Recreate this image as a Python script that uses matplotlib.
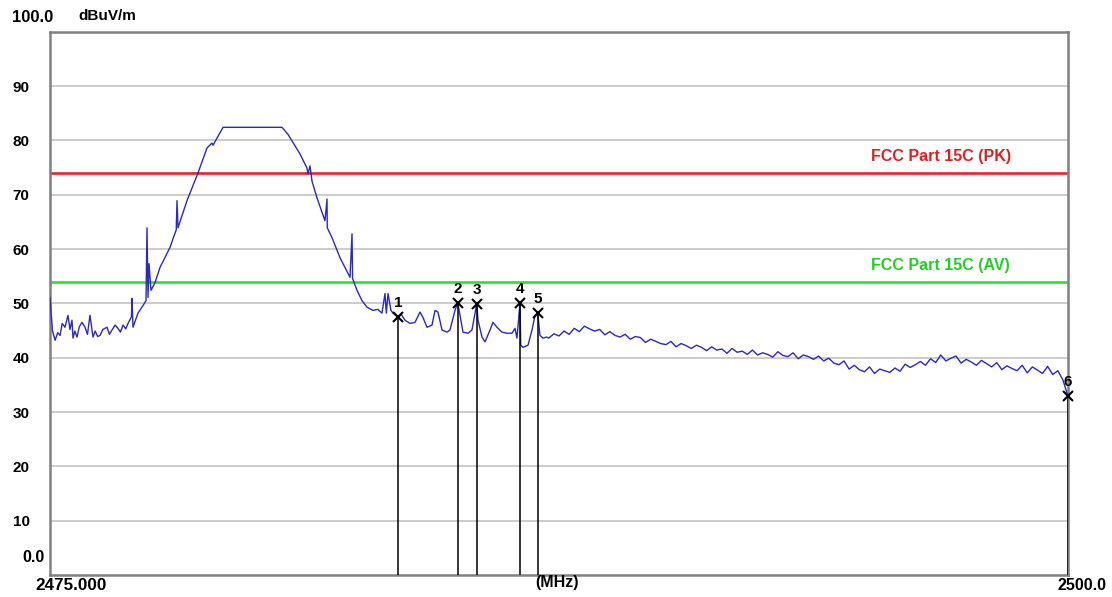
import numpy as np
import matplotlib
matplotlib.use('Agg')
import matplotlib.pyplot as plt

# sweep trace, left part
trace_freq = [
    2475.000, 2475.060, 2475.123, 2475.190, 2475.246, 2475.300, 2475.368, 2475.442,
    2475.490, 2475.540, 2475.565, 2475.610, 2475.663, 2475.720, 2475.786, 2475.860,
    2475.920, 2475.982, 2476.056, 2476.110, 2476.170, 2476.228, 2476.300, 2476.400,
    2476.460, 2476.523, 2476.600, 2476.670, 2476.730, 2476.793, 2476.860, 2476.916,
    2477.000, 2477.014, 2477.038, 2477.161, 2477.284, 2477.358, 2477.382, 2477.407,
    2477.431, 2477.480, 2477.579, 2477.701, 2477.873, 2477.947, 2478.021, 2478.100,
    2478.119, 2478.143, 2478.364, 2478.635, 2478.856, 2478.978, 2479.003, 2479.249,
    2480.697, 2480.845, 2481.139, 2481.311, 2481.336, 2481.385, 2481.434, 2481.557,
    2481.753, 2481.803, 2481.810, 2481.925, 2482.122, 2482.367, 2482.417, 2482.430,
    2482.539, 2482.662, 2482.785, 2482.932, 2483.050, 2483.153, 2483.227, 2483.260,
    2483.301, 2483.374, 2483.423, 2483.550, 2483.630, 2483.718, 2483.841, 2483.964,
    2484.086, 2484.160, 2484.258, 2484.381, 2484.455, 2484.528, 2484.627, 2484.749,
    2484.823, 2484.946, 2485.012, 2485.069, 2485.142, 2485.265, 2485.363, 2485.479,
    2485.511, 2485.609, 2485.683, 2485.806, 2485.879, 2485.977, 2486.100, 2486.223,
    2486.346, 2486.419, 2486.468, 2486.542, 2486.560, 2486.616, 2486.739, 2486.837,
    2486.911, 2486.977, 2487.033, 2487.107, 2487.200,
]
trace_level = [
    51.1, 45.0, 43.2, 44.6, 44.1, 46.3, 45.6, 47.8,
    45.2, 46.9, 43.6, 44.9, 43.8, 45.7, 46.5, 45.6,
    44.3, 47.8, 43.8, 44.9, 43.9, 44.1, 45.2, 45.6,
    44.3, 45.1, 46.0, 45.4, 44.7, 46.0, 45.3, 46.3,
    47.5, 50.9, 45.6, 48.2, 49.6, 50.5, 63.9, 51.1,
    57.3, 52.4, 53.8, 56.6, 59.2, 60.3, 61.9, 63.5,
    68.9, 63.9, 68.9, 74.0, 78.6, 79.5, 79.1, 82.4,
    82.4, 81.1, 77.5, 74.9, 73.8, 75.3, 72.5, 69.4,
    65.2, 69.2, 63.9, 62.1, 58.4, 54.8, 62.8, 54.6,
    52.4, 50.5, 49.3, 48.7, 48.9, 48.2, 51.8, 48.2,
    51.8, 48.7, 48.2, 47.5, 47.9, 46.9, 46.3, 46.5,
    48.4, 47.4, 45.6, 46.0, 48.7, 48.4, 45.1, 44.7,
    45.1, 48.7, 50.1, 47.8, 44.7, 44.5, 45.1, 49.9,
    46.9, 43.8, 42.9, 45.1, 46.5, 45.6, 44.7, 44.5,
    44.5, 45.4, 43.6, 50.1, 42.3, 41.9, 42.3, 45.1,
    47.8, 48.2, 44.1, 43.6, 43.8,
]

# right part of the sweep, equally spaced points 2487.25 .. 2500.0 MHz
tail_level = [
    43.6, 44.4, 44.0, 44.9, 44.3, 45.4, 44.8, 45.8, 45.3, 44.9, 45.2, 44.2,
    44.8, 44.1, 43.8, 44.3, 43.4, 43.9, 43.7, 42.8, 43.4, 43.0, 42.6, 42.4,
    43.0, 42.0, 42.6, 42.2, 41.7, 42.3, 41.9, 41.3, 42.0, 41.4, 41.6, 40.8,
    41.7, 41.0, 41.2, 40.6, 41.4, 40.5, 40.9, 40.6, 40.1, 41.1, 40.4, 40.2,
    40.9, 39.8, 40.5, 40.2, 39.7, 40.3, 39.4, 39.9, 39.0, 38.7, 39.4, 37.9,
    38.6, 37.8, 37.4, 38.3, 37.1, 37.9, 37.6, 37.3, 38.1, 37.5, 38.8, 38.2,
    38.7, 39.3, 38.6, 39.8, 39.1, 40.5, 39.4, 39.9, 40.3, 39.0, 39.7, 39.2,
    38.6, 39.5, 38.9, 38.3, 39.1, 37.8, 38.5, 38.0, 37.6, 38.6, 37.2, 38.3,
    37.7, 37.1, 38.4, 36.9, 37.6, 35.9, 32.9,
]
tail_freq = np.linspace(2487.25, 2500.0, len(tail_level))

# markers
marker_no = ['1', '2', '3', '4', '5', '6']
marker_freq = [2483.55, 2485.01, 2485.48, 2486.54, 2486.98, 2500.0]
marker_level = [47.5, 50.1, 49.9, 50.1, 48.2, 32.9]

# limit lines
limit_pk = 74.0
limit_av = 54.0

y_ticks = [10, 20, 30, 40, 50, 60, 70, 80, 90]

FONT = ['Liberation Sans', 'DejaVu Sans']
W, H = 1112, 597


def main():
    plt.rcParams['font.family'] = FONT
    fig = plt.figure(figsize=(W / 100, H / 100), dpi=100)
    fig.patch.set_facecolor('white')
    ax = fig.add_axes([50 / W, 1 - 575 / H, 1018 / W, (575 - 31.7) / H])

    ax.set_xlim(2475.0, 2500.0)
    ax.set_ylim(0, 100)

    # horizontal grid only
    for v in y_ticks:
        ax.axhline(v, color='#c8c8c8', lw=1.3, zorder=0)

    ax.axhline(limit_pk, color='#e8242a', lw=1.9, zorder=2)
    ax.axhline(limit_av, color='#2ee02e', lw=1.9, zorder=2)
    ax.text(2495.16, limit_pk + 1.6, 'FCC Part 15C (PK)', color='#e02020',
            fontsize=11.5, fontweight='bold', va='bottom', ha='left')
    ax.text(2495.16, limit_av + 1.6, 'FCC Part 15C (AV)', color='#22d022',
            fontsize=11.5, fontweight='bold', va='bottom', ha='left')

    freq = np.concatenate([trace_freq, tail_freq])
    level = np.concatenate([trace_level, tail_level])
    ax.plot(freq, level, color='#2828cc', lw=1.0, zorder=3)

    # marker lines, crosses and numbers
    for n, f, lv in zip(marker_no, marker_freq, marker_level):
        ax.vlines(f, 0, lv, color='black', lw=1.1, zorder=4)
        ax.plot(f, lv, marker='x', ms=7.5, mew=1.5, color='black', zorder=5, clip_on=False)
        ax.text(f, lv + 1.3, n, fontsize=11, fontweight='bold', ha='center',
                va='bottom', zorder=5, clip_on=False)

    for s in ax.spines.values():
        s.set_color('#808080')
        s.set_linewidth(1.8)

    ax.set_xticks([])
    ax.set_yticks(y_ticks)
    ax.set_yticklabels([str(v) for v in y_ticks], fontsize=11, fontweight='bold')
    ax.tick_params(axis='y', length=0, pad=27)
    for lab in ax.get_yticklabels():
        lab.set_ha('left')

    # corner labels
    fig.text(12 / W, 1 - 18 / H, '100.0', fontsize=12, fontweight='bold', va='center', ha='left')
    fig.text(78 / W, 1 - 16 / H, 'dBuV/m', fontsize=11, fontweight='bold', va='center', ha='left')
    fig.text(45 / W, 1 - 558 / H, '0.0', fontsize=11.5, fontweight='bold', va='center', ha='right')
    fig.text(35 / W, 1 - 585 / H, '2475.000', fontsize=12.3, fontweight='bold', va='center', ha='left')
    fig.text(557 / W, 1 - 583 / H, '(MHz)', fontsize=11.5, fontweight='bold', va='center', ha='center')
    fig.text(1106 / W, 1 - 585 / H, '2500.0', fontsize=11.5, fontweight='bold', va='center', ha='right')

    fig.savefig('out.png', dpi=100, facecolor='white')
    plt.close(fig)


if __name__ == "__main__":
    main()
